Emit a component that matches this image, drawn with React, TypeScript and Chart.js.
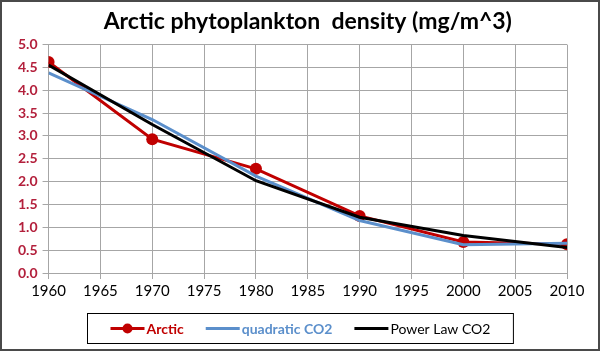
import React, { useEffect, useRef } from "react";
import { Chart, registerables } from "chart.js";

Chart.register(...registerables);

// ---- Data ----
const years = [1960, 1970, 1980, 1990, 2000, 2010];
const arctic = [4.62, 2.93, 2.28, 1.25, 0.68, 0.63];
const quadraticCO2 = [4.38, 3.36, 2.12, 1.15, 0.62, 0.65];
const powerLawCO2 = [4.55, 3.25, 2.02, 1.22, 0.82, 0.56];
const seriesNames = ["Arctic", "quadratic CO2", "Power Law CO2"];
const titleText = "Arctic phytoplankton  density (mg/m^3)";
const xRange = [1960, 2010];
const xStep = 5;
const yRange = [0, 5];
const yStep = 0.5;

const RED = "#c00000";
const BLUE = "#5b8fcb";
const BLACK = "#000000";
const YLABEL = "#b3203c";
const GRID = "#a6a6a6";
const FONT = "Lato, 'Liberation Sans', sans-serif";

const toPoints = (ys: number[]) => years.map((x, i) => ({ x, y: ys[i] }));

const frameAndLegend = {
  id: "frameAndLegend",
  beforeDraw(chart: any) {
    const { ctx, width, height } = chart;
    ctx.save();
    ctx.fillStyle = "#ffffff";
    ctx.fillRect(0, 0, width, height);
    ctx.restore();
  },
  afterDraw(chart: any) {
    const { ctx, width, height } = chart;
    ctx.save();
    // outer frame
    ctx.strokeStyle = "#4a4a4a";
    ctx.lineWidth = 2;
    ctx.strokeRect(1, 1, width - 2, height - 2);

    // legend
    const items = chart.data.datasets.map((ds: any) => ({
      label: ds.label,
      color: ds.borderColor,
      bold: ds.legendBold,
      marker: ds.pointRadius > 0,
    }));
    const lineLen = 34;
    const lineGap = 2;
    const itemGap = 22;
    const padX = 23;
    const fontSize = 14;
    let total = 0;
    const widths = items.map((it: any) => {
      ctx.font = `${it.bold ? "bold " : ""}${fontSize}px ${FONT}`;
      return ctx.measureText(it.label).width;
    });
    items.forEach((it: any, i: number) => {
      total += lineLen + lineGap + widths[i];
      if (i < items.length - 1) total += itemGap;
    });
    const boxW = total + padX * 2;
    const boxH = 30;
    const boxX = Math.round(width / 2 - boxW / 2) + 0.5;
    const boxY = 313.5;
    ctx.strokeStyle = "#000";
    ctx.lineWidth = 1;
    ctx.strokeRect(boxX, boxY, boxW, boxH);
    const cy = boxY + boxH / 2;
    let x = boxX + padX;
    items.forEach((it: any, i: number) => {
      ctx.strokeStyle = it.color;
      ctx.lineWidth = 3;
      ctx.beginPath();
      ctx.moveTo(x, cy);
      ctx.lineTo(x + lineLen, cy);
      ctx.stroke();
      if (it.marker) {
        ctx.fillStyle = it.color;
        ctx.beginPath();
        ctx.arc(x + lineLen / 2, cy, 5, 0, Math.PI * 2);
        ctx.fill();
      }
      x += lineLen + lineGap;
      ctx.font = `${it.bold ? "bold " : ""}${fontSize}px ${FONT}`;
      ctx.fillStyle = it.color;
      ctx.textBaseline = "middle";
      ctx.textAlign = "left";
      ctx.fillText(it.label, x, cy + 1);
      x += widths[i] + itemGap;
    });
    ctx.restore();
  },
};

export default function App() {
  const ref = useRef<HTMLCanvasElement>(null);
  useEffect(() => {
    if (!ref.current) return;
    const chart = new Chart(ref.current, {
      type: "line",
      data: {
        datasets: [
          {
            label: seriesNames[0],
            data: toPoints(arctic),
            borderColor: RED,
            backgroundColor: RED,
            borderWidth: 3,
            pointRadius: 6,
            pointBorderWidth: 0,
            pointBackgroundColor: RED,
            order: 2,
            legendBold: true,
          } as any,
          {
            label: seriesNames[1],
            data: toPoints(quadraticCO2),
            borderColor: BLUE,
            backgroundColor: BLUE,
            borderWidth: 3,
            pointRadius: 0,
            order: 1,
            legendBold: true,
          } as any,
          {
            label: seriesNames[2],
            data: toPoints(powerLawCO2),
            borderColor: BLACK,
            backgroundColor: BLACK,
            borderWidth: 3,
            pointRadius: 0,
            order: 0,
            legendBold: false,
          } as any,
        ],
      },
      options: {
        animation: false,
        responsive: false,
        devicePixelRatio: 1,
        layout: { padding: { left: 13, right: 33, top: 0, bottom: 48 } },
        plugins: {
          legend: { display: false },
          tooltip: { enabled: false },
          title: {
            display: true,
            fullSize: false,
            text: titleText,
            color: "#000",
            font: { family: FONT, size: 23, weight: "bold" },
            padding: { top: 8, bottom: 9 },
          },
        },
        scales: {
          x: {
            type: "linear",
            min: xRange[0],
            max: xRange[1],
            ticks: {
              stepSize: xStep,
              callback: (v: any) => String(v),
              color: "#000",
              font: { family: FONT, size: 15 },
              padding: 3,
              maxRotation: 0,
            },
            grid: { color: GRID, lineWidth: 1, tickLength: 6 },
            border: { color: GRID },
          },
          y: {
            min: yRange[0],
            max: yRange[1],
            ticks: {
              stepSize: yStep,
              callback: (v: any) => Number(v).toFixed(1),
              color: YLABEL,
              font: { family: FONT, size: 14, weight: "bold" },
              padding: 5,
            },
            grid: { color: GRID, lineWidth: 1, tickLength: 6 },
            border: { color: GRID },
          },
        },
      },
      plugins: [frameAndLegend],
    });
    return () => chart.destroy();
  }, []);
  return (
    <div style={{ position: "fixed", left: 0, top: 0, width: 600, height: 351 }}>
      <canvas ref={ref} width={600} height={351} />
    </div>
  );
}
